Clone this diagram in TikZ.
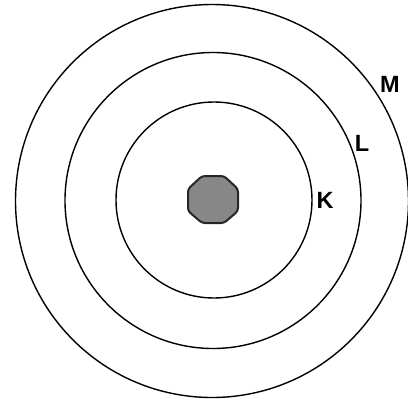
\documentclass[tikz,border=0pt]{standalone}
\usepackage{fontspec}
\setmainfont{Liberation Sans}
\begin{document}
\begin{tikzpicture}[x=1pt,y=-1pt,
  shell/.style={draw=black,line width=1.4pt,circle,minimum size=#1,inner sep=0pt},
  lbl/.style={font=\fontsize{23.5}{23.5}\selectfont\bfseries,inner sep=0pt},
  nucleus/.style={draw=black!85,line width=2pt,fill=black!47,rounded corners=3pt}]
\useasboundingbox (0,0) rectangle (408,400);
\node[shell=393pt] (M) at (212,201) {};
\node[shell=296pt] (L) at (213,200.5) {};
\node[shell=196pt] (K) at (214,200) {};
\coordinate (n) at (213,200);
\draw[nucleus] ([shift={(-11,-24)}]n) -- ([shift={(11,-24)}]n) -- ([shift={(25,-11)}]n)
  -- ([shift={(25,11)}]n) -- ([shift={(11,23)}]n) -- ([shift={(-11,23)}]n)
  -- ([shift={(-25,11)}]n) -- ([shift={(-25,-11)}]n) -- cycle;
\node[lbl] (lm) at (390,84) {M};
\node[lbl] (ll) at (362,143) {L};
\node[lbl] (lk) at (325,200) {K};
\end{tikzpicture}
\end{document}
